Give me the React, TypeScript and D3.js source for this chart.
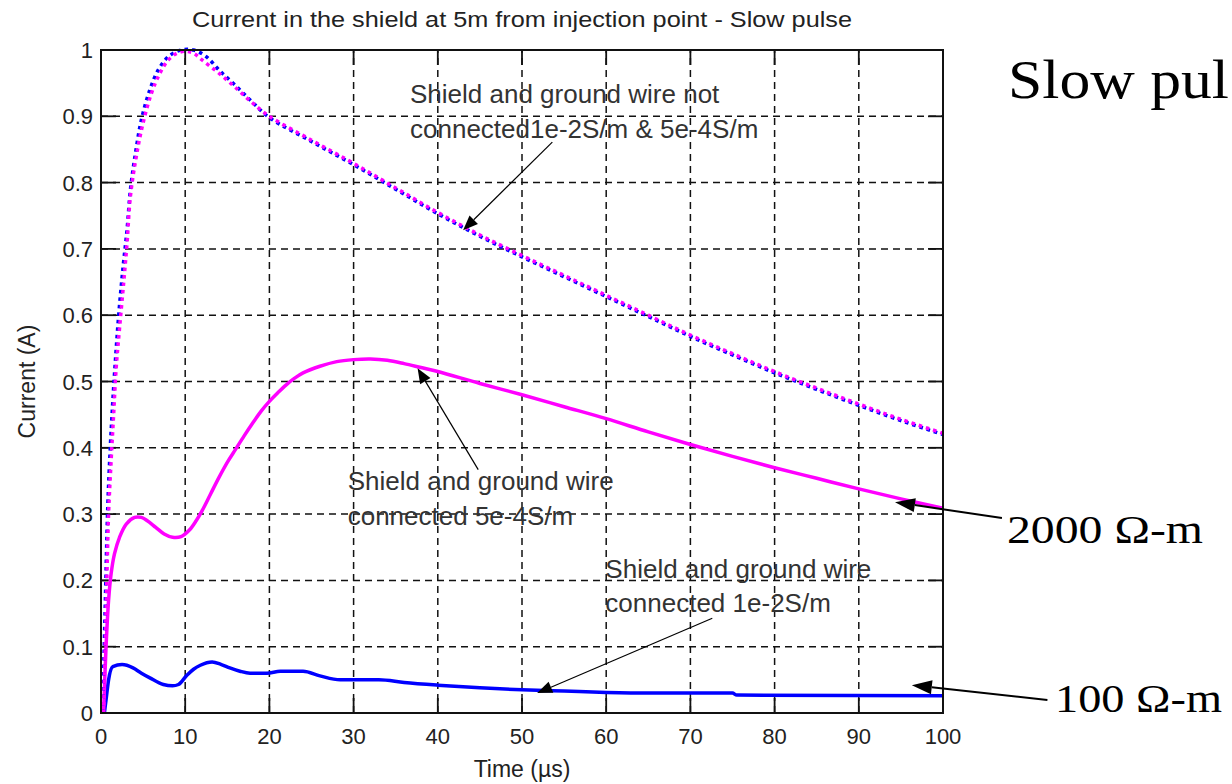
import * as d3 from 'd3';
import React, { useRef, useEffect } from 'react';

// time in us, current in A
const magentaDotted: [number, number][] = [
  [0.3, 0], [0.6, 0.15], [0.9, 0.3], [1.2, 0.38], [1.5, 0.45], [1.8, 0.52], [2.2, 0.58], [2.7, 0.65],
  [3.1, 0.71], [3.5, 0.78], [4.2, 0.84], [5, 0.89], [6, 0.935], [7, 0.965], [8, 0.985], [9, 0.995],
  [10, 0.998], [11, 0.995], [12, 0.985], [14, 0.965], [16, 0.943], [18, 0.92], [20, 0.9], [25, 0.864],
  [30, 0.829], [35, 0.792], [40, 0.755], [45, 0.721], [50, 0.69], [55, 0.66], [60, 0.63], [65, 0.6],
  [70, 0.57], [75, 0.542], [80, 0.515], [85, 0.49], [90, 0.466], [95, 0.443], [100, 0.422],
];
const blueDotted: [number, number][] = [
  [0.2, 0], [0.5, 0.16], [0.8, 0.31], [1.1, 0.4], [1.4, 0.47], [1.7, 0.53], [2.1, 0.6], [2.6, 0.67],
  [3.1, 0.73], [3.5, 0.79], [4.1, 0.845], [4.8, 0.895], [5.8, 0.94], [6.8, 0.97], [8, 0.99], [9.5, 1.0],
  [11, 1.0], [12.5, 0.99], [14, 0.97], [16, 0.946], [18, 0.921], [20, 0.898], [25, 0.862], [30, 0.827],
  [35, 0.79], [40, 0.753], [45, 0.719], [50, 0.688], [55, 0.658], [60, 0.628], [65, 0.598], [70, 0.568],
  [75, 0.54], [80, 0.513], [85, 0.488], [90, 0.464], [95, 0.441], [100, 0.42],
];
const magentaSolid: [number, number][] = [
  [0.3, 0], [0.6, 0.1], [0.9, 0.17], [1.2, 0.21], [1.6, 0.24], [2.2, 0.265], [3, 0.285], [4, 0.295],
  [4.8, 0.295], [5.5, 0.29], [6.5, 0.28], [7.5, 0.27], [8.5, 0.265], [9.5, 0.266], [10.5, 0.276],
  [11.3, 0.29], [12, 0.305], [13, 0.33], [14, 0.355], [15, 0.378], [16, 0.398], [17, 0.418], [18, 0.437],
  [19, 0.455], [20, 0.47], [21, 0.483], [22, 0.495], [23, 0.505], [24, 0.513], [26, 0.523], [28, 0.53],
  [30, 0.533], [32, 0.534], [34, 0.532], [36, 0.527], [38, 0.521], [40, 0.515], [45, 0.497], [50, 0.48],
  [55, 0.462], [60, 0.444], [65, 0.424], [70, 0.405], [75, 0.387], [80, 0.37], [85, 0.354], [90, 0.338],
  [95, 0.323], [100, 0.309],
];
const blueSolid: [number, number][] = [
  [0.4, 0], [0.6, 0.02], [0.9, 0.05], [1.4, 0.07], [2.5, 0.073], [3.8, 0.068], [4.8, 0.06], [5.8, 0.053],
  [7.4, 0.043], [8.5, 0.041], [9.2, 0.043], [10.2, 0.057], [11, 0.066], [11.8, 0.072], [13.2, 0.077],
  [14.3, 0.073], [15.3, 0.068], [16.5, 0.063], [17.7, 0.06], [19.7, 0.06], [21.3, 0.063], [24, 0.063],
  [26, 0.056], [28.4, 0.05], [33, 0.05], [36, 0.046], [40, 0.042], [45, 0.038], [50, 0.035], [55, 0.033],
  [60, 0.031], [65, 0.03], [75, 0.03], [75.5, 0.027], [100, 0.026],
];

const xTicks = [0, 10, 20, 30, 40, 50, 60, 70, 80, 90, 100];
const yTicks = [0, 0.1, 0.2, 0.3, 0.4, 0.5, 0.6, 0.7, 0.8, 0.9, 1];
const yTickLabels = ['0', '0.1', '0.2', '0.3', '0.4', '0.5', '0.6', '0.7', '0.8', '0.9', '1'];

const titleText = 'Current in the shield at 5m from injection point - Slow pulse';
const xLabel = 'Time (\u00b5s)';
const yLabel = 'Current (A)';

// notes inside the plot: [x, y of first line, y of second line] in data units
const notes = [
  { lines: ['Shield and ground wire not', 'connected1e-2S/m & 5e-4S/m'], at: [36.7, 0.92, 0.867], from: [53.6, 0.861], to: [43.0, 0.728] },
  { lines: ['Shield and ground wire', 'connected 5e-4S/m'], at: [29.3, 0.336, 0.284], from: [44.8, 0.367], to: [37.6, 0.52] },
  { lines: ['Shield and ground wire', 'connected 1e-2S/m'], at: [59.9, 0.204, 0.152], from: [72.6, 0.143], to: [51.8, 0.03] },
];
// big serif labels on the right
const sideLabels = [
  { text: '2000 \u03a9-m', at: [107.6, 0.256], len: 196, from: [107.0, 0.294], to: [94.3, 0.318] },
  { text: '100 \u03a9-m', at: [113.3, 0.0015], len: 167, from: [112.4, 0.0196], to: [96.3, 0.042] },
];
const cornerText = 'Slow pul';

const W = 1232, H = 784;
const margin = { left: 101, right: 289, top: 50, bottom: 71 };

function App() {
  const ref = useRef<SVGSVGElement>(null);

  useEffect(() => {
    const svg = d3.select(ref.current);
    svg.selectAll('*').remove();

    const x = d3.scaleLinear().domain([0, 100]).range([margin.left, W - margin.right]);
    const y = d3.scaleLinear().domain([0, 1]).range([H - margin.bottom, margin.top]);
    const font = 'Liberation Sans, Arial, sans-serif';

    svg.append('rect').attr('width', W).attr('height', H).attr('fill', 'white');

    // grid
    const grid = svg.append('g').attr('stroke', '#111').attr('stroke-width', 1.5).attr('stroke-dasharray', '7 5');
    grid.selectAll('.gx').data(xTicks.slice(1, -1)).enter().append('line')
      .attr('x1', d => x(d)).attr('x2', d => x(d)).attr('y1', y(0)).attr('y2', y(1));
    grid.selectAll('.gy').data(yTicks.slice(1, -1)).enter().append('line')
      .attr('x1', x(0)).attr('x2', x(100)).attr('y1', d => y(d)).attr('y2', d => y(d));

    // inward ticks on all four sides
    const tk = svg.append('g').attr('stroke', '#111').attr('stroke-width', 1.8);
    xTicks.forEach(d => {
      tk.append('line').attr('x1', x(d)).attr('x2', x(d)).attr('y1', y(0)).attr('y2', y(0) - 15);
      tk.append('line').attr('x1', x(d)).attr('x2', x(d)).attr('y1', y(1)).attr('y2', y(1) + 15);
    });
    yTicks.forEach(d => {
      tk.append('line').attr('x1', x(0)).attr('x2', x(0) + 15).attr('y1', y(d)).attr('y2', y(d));
      tk.append('line').attr('x1', x(100)).attr('x2', x(100) - 15).attr('y1', y(d)).attr('y2', y(d));
    });

    // curves
    const line = d3.line<[number, number]>().x(d => x(d[0])).y(d => y(d[1])).curve(d3.curveCatmullRom.alpha(0.5));
    const step = d3.line<[number, number]>().x(d => x(d[0])).y(d => y(d[1])).curve(d3.curveMonotoneX);
    svg.append('path').datum(blueSolid).attr('d', step).attr('fill', 'none')
      .attr('stroke', '#0000ff').attr('stroke-width', 3.5);
    svg.append('path').datum(magentaSolid).attr('d', line).attr('fill', 'none')
      .attr('stroke', '#ff00ff').attr('stroke-width', 3.5);
    svg.append('path').datum(blueDotted).attr('d', line).attr('fill', 'none')
      .attr('stroke', '#0000ff').attr('stroke-width', 3.5).attr('stroke-dasharray', '3.5 4');
    svg.append('path').datum(magentaDotted).attr('d', line).attr('fill', 'none')
      .attr('stroke', '#ff00ff').attr('stroke-width', 3.5).attr('stroke-dasharray', '3.5 4');

    // box
    svg.append('rect').attr('x', x(0)).attr('y', y(1)).attr('width', x(100) - x(0)).attr('height', y(0) - y(1))
      .attr('fill', 'none').attr('stroke', '#111').attr('stroke-width', 2);

    // tick labels
    svg.selectAll('.xl').data(xTicks).enter().append('text')
      .attr('x', d => x(d)).attr('y', y(0) + 31).attr('text-anchor', 'middle')
      .attr('font-family', font).attr('font-size', 22).attr('fill', '#222').text(d => d);
    svg.selectAll('.yl').data(yTicks).enter().append('text')
      .attr('x', x(0) - 8).attr('y', d => y(d) + 8).attr('text-anchor', 'end')
      .attr('font-family', font).attr('font-size', 22).attr('fill', '#222').text((d, i) => yTickLabels[i]);

    // title and axis labels
    svg.append('text').attr('x', (x(0) + x(100)) / 2).attr('y', 27).attr('text-anchor', 'middle')
      .attr('font-family', font).attr('font-size', 22).attr('fill', '#222')
      .attr('textLength', 660).attr('lengthAdjust', 'spacingAndGlyphs').text(titleText);
    svg.append('text').attr('x', (x(0) + x(100)) / 2).attr('y', 777).attr('text-anchor', 'middle')
      .attr('font-family', font).attr('font-size', 23).attr('fill', '#222').text(xLabel);
    svg.append('text').attr('transform', `translate(35,${(y(0) + y(1)) / 2}) rotate(-90)`)
      .attr('text-anchor', 'middle').attr('font-family', font).attr('font-size', 23).attr('fill', '#222').text(yLabel);

    const arrow = (from: number[], to: number[], width: number, len: number, half: number) => {
      const x1 = x(from[0]), y1 = y(from[1]), x2 = x(to[0]), y2 = y(to[1]);
      const a = Math.atan2(y2 - y1, x2 - x1);
      const bx = x2 - len * Math.cos(a), by = y2 - len * Math.sin(a);
      svg.append('line').attr('x1', x1).attr('y1', y1).attr('x2', bx).attr('y2', by)
        .attr('stroke', '#000').attr('stroke-width', width);
      const px = -Math.sin(a) * half, py = Math.cos(a) * half;
      svg.append('polygon')
        .attr('points', `${x2},${y2} ${bx + px},${by + py} ${bx - px},${by - py}`)
        .attr('fill', '#000');
    };

    notes.forEach(n => {
      n.lines.forEach((t, i) => {
        svg.append('text').attr('x', x(n.at[0])).attr('y', y(n.at[i + 1]))
          .attr('font-family', font).attr('font-size', 26).attr('fill', '#333').text(t);
      });
      arrow(n.from, n.to, 1.2, 15, 6);
    });

    sideLabels.forEach(s => {
      svg.append('text').attr('x', x(s.at[0])).attr('y', y(s.at[1]))
        .attr('font-family', 'Liberation Serif, Times New Roman, serif').attr('font-size', 41).attr('fill', '#000')
        .attr('textLength', s.len).attr('lengthAdjust', 'spacingAndGlyphs').text(s.text);
      arrow(s.from, s.to, 2, 20, 7);
    });

    svg.append('text').attr('x', 1008).attr('y', 98)
      .attr('font-family', 'Liberation Serif, Times New Roman, serif').attr('font-size', 54).attr('fill', '#000')
      .attr('textLength', 221).attr('lengthAdjust', 'spacingAndGlyphs').text(cornerText);
  }, []);

  return (
    <div className="chart">
      <svg ref={ref} width={W} height={H} style={{ position: 'fixed', left: 0, top: 0 }} />
    </div>
  );
}

export default App;
